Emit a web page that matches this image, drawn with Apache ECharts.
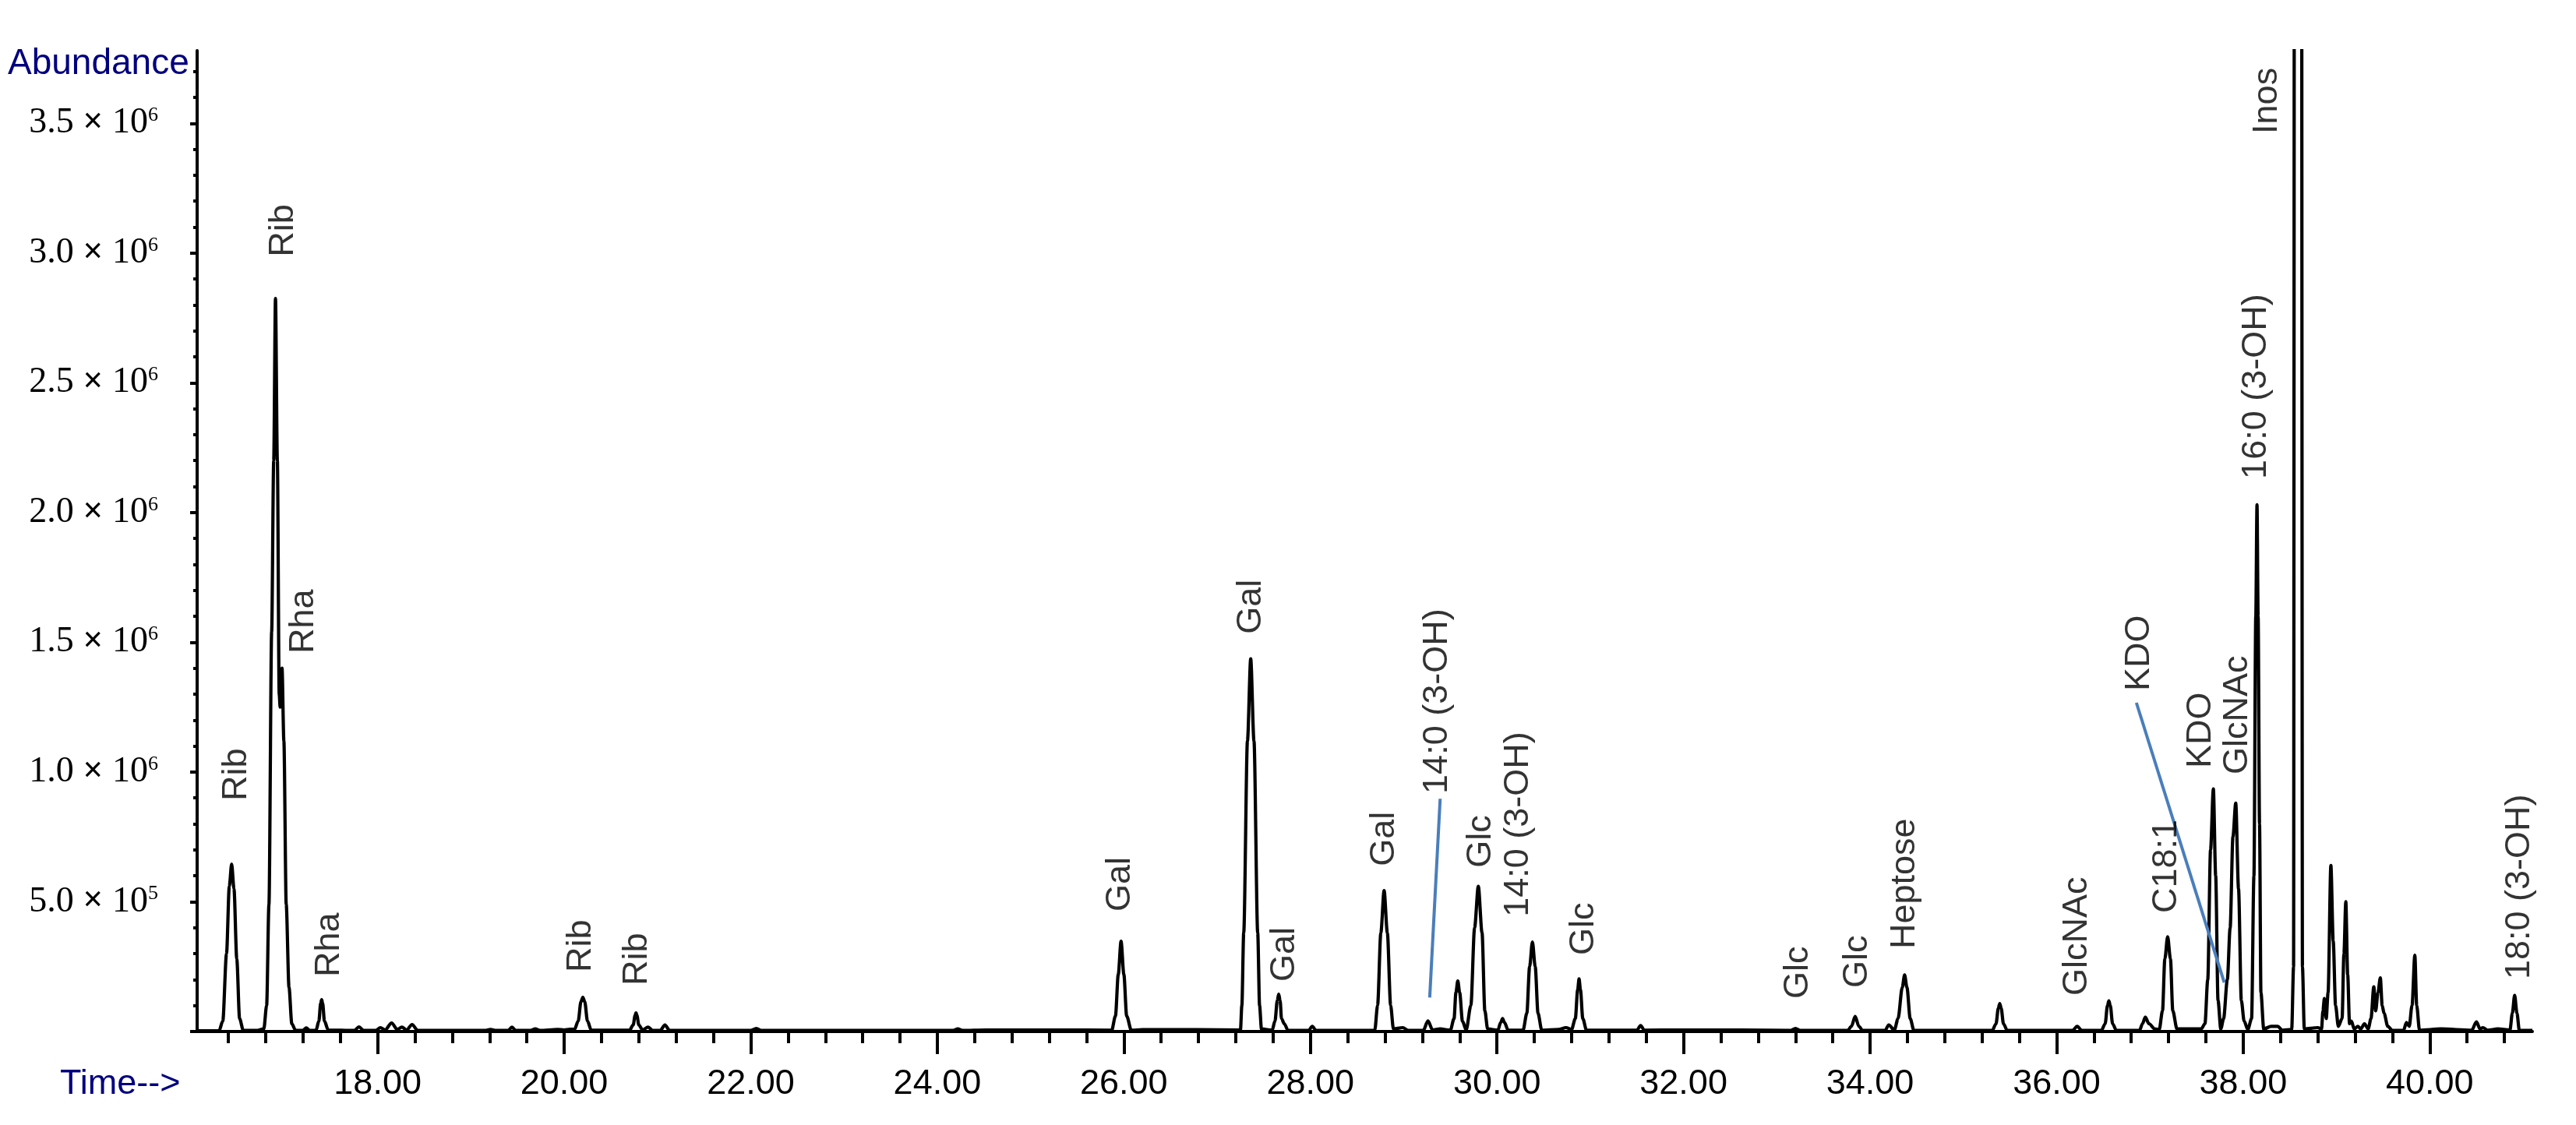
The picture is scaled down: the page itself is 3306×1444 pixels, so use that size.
<!DOCTYPE html>
<html><head><meta charset="utf-8">
<script src="https://cdn.jsdelivr.net/npm/echarts@6/dist/echarts.min.js"></script>
<style>html,body{margin:0;padding:0;background:#fff}#c{width:3306px;height:1444px}</style>
</head><body><div id="c"></div>
<script>
// Retention time (min) and abundance (x10^6) of the total ion chromatogram
const traceTime = [16.065,16.30,16.34,16.38,16.41,16.435,16.46,16.49,16.52,16.56,16.70,16.78,16.81,16.835,16.864,16.886,16.905,16.925,16.945,16.955,16.975,16.995,17.02,17.05,17.08,17.12,17.20,17.235,17.27,17.34,17.37,17.39,17.40,17.41,17.43,17.47,17.75,17.80,17.85,17.98,18.03,18.08,18.15,18.21,18.26,18.31,18.37,18.43,19.15,19.21,19.27,19.40,19.44,19.48,19.64,19.69,19.74,19.93,20.00,20.06,20.11,20.15,20.18,20.20,20.22,20.25,20.29,20.70,20.74,20.76,20.77,20.78,20.80,20.84,20.90,20.95,21.03,21.08,21.13,22.00,22.06,22.11,24.17,24.22,24.27,24.52,25.32,25.87,25.91,25.94,25.97,26.00,26.03,26.08,26.20,26.78,27.25,27.265,27.285,27.325,27.36,27.395,27.435,27.455,27.475,27.59,27.62,27.645,27.66,27.675,27.69,27.72,27.76,27.98,28.02,28.06,28.69,28.72,28.755,28.79,28.825,28.86,28.89,28.99,29.05,29.21,29.26,29.31,29.39,29.50,29.54,29.56,29.58,29.60,29.63,29.67,29.72,29.76,29.80,29.84,29.87,29.90,30.01,30.04,30.06,30.08,30.12,30.28,30.32,30.35,30.38,30.41,30.44,30.48,30.66,30.74,30.80,30.84,30.865,30.88,30.895,30.92,30.96,31.50,31.54,31.58,31.96,32.62,33.15,33.20,33.25,33.76,33.80,33.84,33.88,33.92,34.16,34.20,34.26,34.30,34.345,34.37,34.395,34.43,34.47,35.31,35.35,35.375,35.39,35.405,35.43,35.47,36.17,36.22,36.27,36.48,36.52,36.545,36.56,36.575,36.60,36.64,36.89,36.92,36.95,36.99,37.05,37.10,37.135,37.16,37.19,37.22,37.245,37.29,37.55,37.59,37.62,37.65,37.68,37.705,37.73,37.76,37.79,37.83,37.86,37.89,37.92,37.95,37.98,38.01,38.05,38.09,38.115,38.135,38.148,38.16,38.175,38.19,38.22,38.30,38.37,38.42,38.52,38.54,38.55,38.625,38.635,38.655,38.80,38.84,38.855,38.87,38.89,38.91,38.94,38.965,38.99,39.02,39.06,39.08,39.10,39.12,39.14,39.16,39.19,39.23,39.26,39.30,39.34,39.37,39.40,39.42,39.445,39.47,39.49,39.51,39.55,39.60,39.72,39.75,39.78,39.81,39.84,39.86,39.89,40.12,40.45,40.50,40.54,40.57,40.62,40.73,40.86,40.885,40.91,40.935,40.96,41.10];
const traceAbund = [0.003,0.003,0.04,0.30,0.56,0.645,0.55,0.28,0.05,0.004,0.004,0.01,0.10,0.49,1.54,2.20,2.825,2.20,1.30,1.25,1.40,1.12,0.49,0.17,0.03,0.005,0.004,0.014,0.004,0.005,0.04,0.11,0.123,0.11,0.04,0.006,0.004,0.018,0.004,0.004,0.015,0.006,0.033,0.008,0.017,0.006,0.027,0.004,0.004,0.008,0.004,0.004,0.017,0.004,0.004,0.010,0.004,0.008,0.006,0.009,0.008,0.04,0.115,0.132,0.115,0.04,0.005,0.005,0.025,0.062,0.072,0.062,0.025,0.006,0.017,0.004,0.004,0.025,0.004,0.004,0.012,0.004,0.004,0.010,0.004,0.006,0.006,0.005,0.06,0.22,0.348,0.22,0.06,0.005,0.007,0.007,0.006,0.10,0.38,1.12,1.436,1.12,0.38,0.10,0.01,0.005,0.04,0.12,0.144,0.12,0.05,0.03,0.004,0.004,0.02,0.004,0.005,0.10,0.38,0.543,0.38,0.10,0.01,0.015,0.004,0.004,0.041,0.006,0.01,0.005,0.05,0.15,0.195,0.15,0.04,0.006,0.10,0.40,0.56,0.38,0.08,0.01,0.005,0.035,0.05,0.035,0.005,0.005,0.07,0.25,0.345,0.25,0.07,0.005,0.008,0.015,0.008,0.05,0.16,0.203,0.16,0.05,0.005,0.005,0.023,0.005,0.006,0.006,0.004,0.012,0.004,0.004,0.02,0.058,0.02,0.004,0.004,0.025,0.006,0.05,0.17,0.218,0.17,0.05,0.004,0.004,0.03,0.09,0.108,0.09,0.03,0.004,0.004,0.02,0.004,0.004,0.03,0.10,0.118,0.10,0.03,0.004,0.005,0.03,0.055,0.03,0.01,0.008,0.08,0.28,0.365,0.28,0.08,0.01,0.01,0.03,0.20,0.70,0.935,0.60,0.12,0.01,0.05,0.20,0.40,0.75,0.88,0.55,0.12,0.04,0.008,0.05,0.60,1.60,2.03,1.60,0.80,0.15,0.01,0.02,0.02,0.005,0.008,0.25,5.0,5.0,0.25,0.01,0.015,0.01,0.08,0.127,0.05,0.15,0.64,0.35,0.10,0.02,0.05,0.30,0.50,0.22,0.03,0.04,0.01,0.02,0.01,0.03,0.01,0.05,0.172,0.08,0.15,0.207,0.10,0.07,0.02,0.004,0.005,0.035,0.02,0.10,0.294,0.10,0.005,0.01,0.005,0.037,0.01,0.015,0.005,0.01,0.006,0.07,0.139,0.07,0.005,0.004];

// Peak annotations: text, retention time and abundance (x10^6) where the label starts
const peakNames = ['Rib','Rib','Rha','Rha','Rib','Rib','Gal','Gal','Gal','Gal','14:0 (3-OH)','Glc','14:0 (3-OH)','Glc','Glc','Glc','Heptose','GlcNAc','C18:1','KDO','KDO','GlcNAc','16:0 (3-OH)','Inos','18:0 (3-OH)'];
const peakLabelTime = [16.49,16.99,17.21,17.48,20.18,20.78,25.96,27.36,27.72,28.79,29.36,29.83,30.23,30.93,33.23,33.86,34.37,36.22,37.18,36.89,37.55,37.94,38.14,38.26,40.96];
const peakLabelAbund = [0.889,2.985,1.456,0.21,0.228,0.177,0.462,1.532,0.192,0.637,0.916,0.631,0.442,0.294,0.126,0.168,0.318,0.138,0.456,1.312,1.015,0.991,2.129,3.459,0.201];

// Leader lines (time, abundance x10^6)
const leader1Time = [29.391, 29.279];
const leader1Abund = [0.897, 0.131];
const leader2Time = [36.855, 37.797];
const leader2Abund = [1.267, 0.189];

// Axis ticks and labels
const xMajorTicks = [18,20,22,24,26,28,30,32,34,36,38,40];
const xTickLabels = ['18.00','20.00','22.00','24.00','26.00','28.00','30.00','32.00','34.00','36.00','38.00','40.00'];
const yMajorTicks = [0,0.5,1.0,1.5,2.0,2.5,3.0,3.5];
const yLabelValues = [0.5,1.0,1.5,2.0,2.5,3.0,3.5];
const yLabelMantissa = ['5.0','1.0','1.5','2.0','2.5','3.0','3.5'];
const yLabelExponent = ['5','6','6','6','6','6','6'];

const xMin = 16.065, xMax = 41.10, yMax = 3.78;
const xMinorTicks = [];
for (let k = 41; k <= 102; k++) xMinorTicks.push(Math.round(k * 4) / 10);
const yMinorTicks = [];
for (let k = 1; k <= 37; k++) yMinorTicks.push(k / 10);

const trace = traceTime.map((t, i) => [t, traceAbund[i]]);
const labels = peakNames.map((n, i) => ({ name: n, value: [peakLabelTime[i], peakLabelAbund[i]] }));
const l1 = leader1Time.map((t, i) => [t, leader1Abund[i]]);
const l2 = leader2Time.map((t, i) => [t, leader2Abund[i]]);

const chart = echarts.init(document.getElementById('c'), null, { renderer: 'canvas' });
const axisCommon = { type: 'value', splitLine: { show: false } };
chart.setOption({
  animation: false,
  backgroundColor: '#ffffff',
  title: [
    { text: 'Abundance', left: 10, top: 59, padding: 0,
      textStyle: { color: '#00007f', fontFamily: 'Liberation Sans', fontSize: 46, fontWeight: 'normal' } },
    { text: 'Time-->', left: 77, top: 1369, padding: 0,
      textStyle: { color: '#00007f', fontFamily: 'Liberation Sans', fontSize: 45, fontWeight: 'normal' } }
  ],
  grid: { left: 253, right: 56, top: 65, bottom: 120, containLabel: false, outerBoundsMode: 'none' },
  xAxis: [
    Object.assign({}, axisCommon, {
      min: xMin, max: xMax, position: 'bottom',
      axisLine: { show: true, onZero: false, lineStyle: { color: '#000', width: 4 } },
      axisTick: { show: true, customValues: xMajorTicks, length: 29, lineStyle: { color: '#000', width: 4 } },
      axisLabel: { show: true, customValues: xMajorTicks, margin: 45, color: '#000',
        fontFamily: 'Liberation Sans', fontSize: 45,
        formatter: v => xTickLabels[xMajorTicks.indexOf(Math.round(v))] }
    }),
    Object.assign({}, axisCommon, {
      min: xMin, max: xMax, position: 'bottom',
      axisLine: { show: false, onZero: false },
      axisTick: { show: true, customValues: xMinorTicks, length: 15, lineStyle: { color: '#000', width: 4 } },
      axisLabel: { show: false }
    })
  ],
  yAxis: [
    Object.assign({}, axisCommon, {
      min: 0, max: yMax, position: 'left',
      axisLine: { show: true, onZero: false, lineStyle: { color: '#000', width: 4 } },
      axisTick: { show: true, customValues: yMajorTicks, length: 9, lineStyle: { color: '#000', width: 4 } },
      axisLabel: { show: true, customValues: yLabelValues, margin: 50, color: '#000',
        fontFamily: 'Liberation Serif', fontSize: 46,
        formatter: v => {
          const i = yLabelValues.indexOf(Math.round(v * 10) / 10);
          return '{n|' + yLabelMantissa[i] + '} {x|×} {n|10}{s|' + yLabelExponent[i] + '}';
        },
        rich: {
          n: { fontFamily: 'Liberation Serif', fontSize: 46, lineHeight: 46, color: '#000' },
          x: { fontFamily: 'Liberation Serif', fontSize: 46, lineHeight: 46, fontWeight: 'bold', color: '#000' },
          s: { fontFamily: 'Liberation Serif', fontSize: 26, lineHeight: 30, verticalAlign: 'top', color: '#000' }
        } }
    }),
    Object.assign({}, axisCommon, {
      min: 0, max: yMax, position: 'left',
      axisLine: { show: false, onZero: false },
      axisTick: { show: true, customValues: yMinorTicks, length: 5, lineStyle: { color: '#000', width: 4 } },
      axisLabel: { show: false }
    })
  ],
  series: [
    { type: 'line', xAxisIndex: 0, yAxisIndex: 0, data: trace, showSymbol: false, symbol: 'none',
      clip: true, smooth: 0.3, smoothMonotone: 'x', lineStyle: { color: '#000', width: 4.2 }, silent: true, z: 3 },
    { type: 'line', xAxisIndex: 0, yAxisIndex: 0, data: l1, symbol: 'none', clip: true,
      lineStyle: { color: '#4a7ebb', width: 4 }, silent: true, z: 4 },
    { type: 'line', xAxisIndex: 0, yAxisIndex: 0, data: l2, symbol: 'none', clip: true,
      lineStyle: { color: '#4a7ebb', width: 4 }, silent: true, z: 4 },
    { type: 'scatter', xAxisIndex: 0, yAxisIndex: 0, data: labels, symbolSize: 1,
      itemStyle: { color: 'rgba(0,0,0,0)' }, silent: true, z: 5,
      label: { show: true, position: 'inside', formatter: p => p.name, rotate: 90,
        align: 'left', verticalAlign: 'middle', color: '#000',
        fontFamily: 'Liberation Sans', fontSize: 45 } }
  ]
});
</script></body></html>
